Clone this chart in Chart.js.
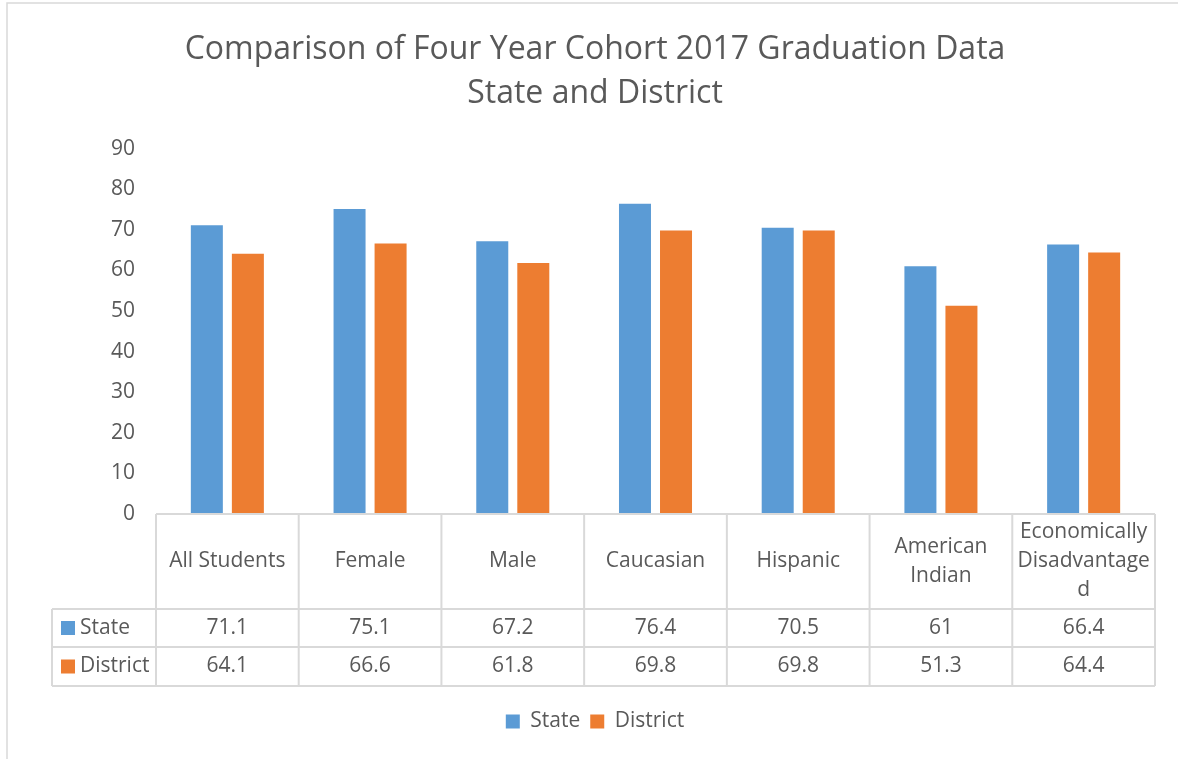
<!DOCTYPE html>
<html>
<head>
<meta charset="utf-8">
<script src="https://cdn.jsdelivr.net/npm/chart.js@4/dist/chart.umd.min.js"></script>
<style>
  html, body { margin: 0; padding: 0; background: #fff; }
  #wrap { width: 1178px; height: 759px; position: relative; }
</style>
</head>
<body>
<div id="wrap"><canvas id="chart" width="1178" height="759"></canvas></div>
<script>
const categories = ['All Students', 'Female', 'Male', 'Caucasian', 'Hispanic', 'American Indian', 'Economically Disadvantaged'];
// how the category labels wrap inside the table header cells
const headerLines = [['All Students'], ['Female'], ['Male'], ['Caucasian'], ['Hispanic'], ['American', 'Indian'], ['Economically', 'Disadvantage', 'd']];
const stateValues = [71.1, 75.1, 67.2, 76.4, 70.5, 61, 66.4];
const districtValues = [64.1, 66.6, 61.8, 69.8, 69.8, 51.3, 64.4];
const yTicks = [0, 10, 20, 30, 40, 50, 60, 70, 80, 90];

const BLUE = '#5B9BD5';
const ORANGE = '#ED7D31';
const TEXT = '#595959';
const GRID = '#d9d9d9';
const FONT = "'Open Sans', sans-serif";

// Data table drawn under the plot, aligned with the category scale
const dataTable = {
    id: 'dataTable',
    beforeDraw(chart) {
        const ctx = chart.ctx;
        ctx.save();
        ctx.strokeStyle = GRID;
        ctx.lineWidth = 1.5;
        ctx.beginPath();
        ctx.moveTo(7, 759);
        ctx.lineTo(7, 3);
        ctx.lineTo(1178, 3);
        ctx.stroke();
        ctx.restore();
    },
    afterDraw(chart) {
        const ctx = chart.ctx;
        const area = chart.chartArea;
        const n = categories.length;
        const catW = (area.right - area.left) / n;
        const top = area.bottom;
        const rowY = [top, top + 95, top + 133, top + 172];
        const keyLeft = 52;

        ctx.save();
        ctx.strokeStyle = GRID;
        ctx.lineWidth = 2;
        ctx.beginPath();
        // horizontal lines
        ctx.moveTo(area.left, rowY[0]); ctx.lineTo(area.right, rowY[0]);
        for (let r = 1; r < rowY.length; r++) {
            ctx.moveTo(keyLeft, rowY[r]); ctx.lineTo(area.right, rowY[r]);
        }
        // vertical lines
        for (let i = 0; i <= n; i++) {
            const x = area.left + i * catW;
            ctx.moveTo(x, rowY[0]); ctx.lineTo(x, rowY[3]);
        }
        ctx.moveTo(keyLeft, rowY[1]); ctx.lineTo(keyLeft, rowY[3]);
        ctx.stroke();

        ctx.fillStyle = TEXT;
        ctx.font = '21px ' + FONT;
        ctx.textAlign = 'center';
        ctx.textBaseline = 'middle';
        const xs = chart.scales.x;
        headerLines.forEach((lines, i) => {
            const cx = xs.getPixelForValue(i);
            const cy = (rowY[0] + rowY[1]) / 2;
            const lh = 29;
            lines.forEach((t, k) => {
                ctx.fillText(t, cx, cy + (k - (lines.length - 1) / 2) * lh);
            });
        });
        const rows = [stateValues, districtValues];
        rows.forEach((vals, r) => {
            const cy = (rowY[r + 1] + rowY[r + 2]) / 2;
            vals.forEach((v, i) => {
                ctx.fillText(String(v), xs.getPixelForValue(i), cy);
            });
        });
        // row keys
        const keys = [['State', BLUE], ['District', ORANGE]];
        ctx.textAlign = 'left';
        keys.forEach(([label, color], r) => {
            const cy = (rowY[r + 1] + rowY[r + 2]) / 2;
            ctx.fillStyle = color;
            ctx.fillRect(61, cy - 7, 14, 14);
            ctx.fillStyle = TEXT;
            ctx.fillText(label, 80, cy);
        });
        ctx.restore();
    }
};

const chart = new Chart(document.getElementById('chart'), {
    type: 'bar',
    data: {
        labels: categories,
        datasets: [
            { label: 'State', data: stateValues, backgroundColor: BLUE },
            { label: 'District', data: districtValues, backgroundColor: ORANGE }
        ]
    },
    options: {
        responsive: false,
        animation: false,
        layout: { padding: { left: 35, right: 23, top: 0, bottom: 17 } },
        datasets: {
            bar: { categoryPercentage: 0.575, barPercentage: 0.78 }
        },
        scales: {
            x: {
                grid: { display: false },
                border: { display: false },
                ticks: { display: false },
                afterFit: (scale) => { scale.height = 187; }
            },
            y: {
                min: 0,
                max: 90,
                afterBuildTicks: (scale) => { scale.ticks = yTicks.map(v => ({ value: v })); },
                grid: { display: false },
                border: { display: false },
                ticks: { color: TEXT, font: { family: FONT, size: 21 }, padding: 13 },
                afterFit: (scale) => { scale.width = 121; }
            }
        },
        plugins: {
            title: {
                display: true,
                text: ['Comparison of Four Year Cohort 2017 Graduation Data', 'State and District'],
                color: TEXT,
                font: { family: FONT, size: 32, weight: 'normal', lineHeight: 1.4 },
                padding: { top: 27, bottom: 32 }
            },
            legend: {
                position: 'bottom',
                labels: {
                    color: TEXT,
                    font: { family: FONT, size: 21 },
                    boxWidth: 14,
                    boxHeight: 14,
                    padding: 10
                }
            },
            tooltip: { enabled: false }
        }
    },
    plugins: [dataTable]
});
</script>
</body>
</html>
